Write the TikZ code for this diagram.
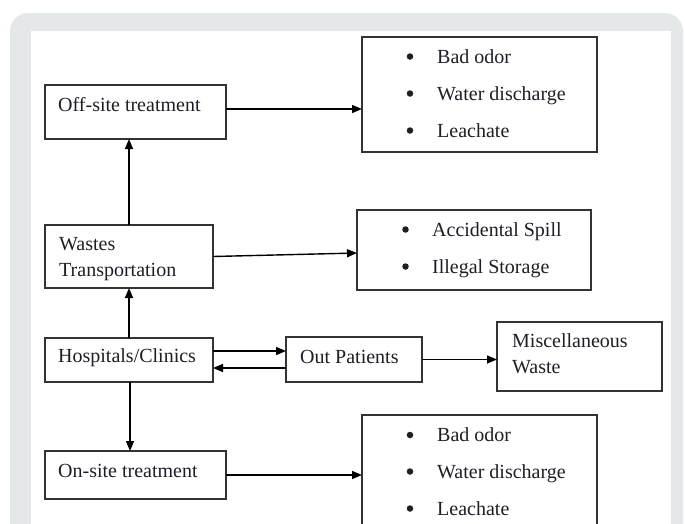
\documentclass[tikz,border=0pt]{standalone}
\usepackage{fontspec}
\setmainfont{Liberation Serif}
\usetikzlibrary{arrows.meta}
\definecolor{panelgray}{RGB}{229,232,232}
\definecolor{boxline}{RGB}{51,51,51}
\definecolor{txt}{RGB}{30,30,40}
\begin{document}
\begin{tikzpicture}[x=1pt,y=-1pt,
  box/.style={draw=boxline, line width=1.4pt, fill=white, inner sep=0pt, outer sep=0pt, rectangle},
  lbl/.style={anchor=base west, inner sep=0pt, text=txt, font=\fontsize{20}{26}\selectfont},
  bul/.style={circle, fill=txt, inner sep=0pt, minimum size=6.5pt},
  arr/.style={draw=black, line width=1.4pt, -{Triangle[length=10pt,width=8pt]}}]
\useasboundingbox (0,0) rectangle (685,523);
\clip (0,0) rectangle (685,523);
\fill[white] (0,0) rectangle (685,523);
\fill[panelgray, rounded corners=18pt] (10,13) rectangle (683,580);
\fill[white] (31,31) rectangle (671,580);

% boxes
\node[box, minimum width=181pt, minimum height=54pt] (off) at (135.5,112) {};
\node[box, minimum width=168pt, minimum height=63pt] (wst) at (129,256.5) {};
\node[box, minimum width=168pt, minimum height=44pt] (hosp) at (129,360) {};
\node[box, minimum width=181pt, minimum height=48pt] (ons) at (135.5,475) {};
\node[box, minimum width=136pt, minimum height=45pt] (outp) at (354,359.5) {};
\node[box, minimum width=165pt, minimum height=69pt] (misc) at (579.5,356.5) {};
\node[box, minimum width=235pt, minimum height=115pt] (topb) at (479.5,94.5) {};
\node[box, minimum width=234pt, minimum height=80pt] (midb) at (474,250) {};
\node[box, minimum width=235pt, minimum height=130pt] (botb) at (479.5,480) {};

% labels
\node[lbl] (toff) at (58,111.5) {Off-site treatment};
\node[lbl] (twst1) at (59,250) {Wastes};
\node[lbl] (twst2) at (59,276) {Transportation};
\node[lbl] (thosp) at (58,362.5) {Hospitals/Clinics};
\node[lbl] (tons) at (58,477) {On-site treatment};
\node[lbl] (toutp) at (300,363) {Out Patients};
\node[lbl] (tmisc1) at (512,347) {Miscellaneous};
\node[lbl] (tmisc2) at (512,373) {Waste};

\node[bul] (b1) at (410,56.5) {};
\node[lbl] (t1) at (437,63) {Bad odor};
\node[bul] (b2) at (410,93.5) {};
\node[lbl] (t2) at (437,100) {Water discharge};
\node[bul] (b3) at (410,130.5) {};
\node[lbl] (t3) at (437,137) {Leachate};

\node[bul] (b4) at (405.5,229.5) {};
\node[lbl] (t4) at (432,236) {Accidental Spill};
\node[bul] (b5) at (405.5,266.5) {};
\node[lbl] (t5) at (432,273) {Illegal Storage};

\node[bul] (b6) at (410,435) {};
\node[lbl] (t6) at (437,441.5) {Bad odor};
\node[bul] (b7) at (410,471.5) {};
\node[lbl] (t7) at (437,478) {Water discharge};
\node[bul] (b8) at (410,508.5) {};
\node[lbl] (t8) at (437,515) {Leachate};

% connectors
\draw[arr] (hosp.north) -- (hosp.north |- wst.south);
\draw[arr] (wst.north) -- (wst.north |- off.south);
\draw[arr] ([xshift=1pt]hosp.south) -- ([xshift=1pt]hosp.south |- ons.north);
\draw[arr] ([yshift=3pt]off.east) -- ([yshift=3pt]off.east -| topb.west);
\draw[arr] (wst.east) -- ([yshift=-3pt]midb.west);
\draw[arr] (ons.east) -- (ons.east -| botb.west);
\draw[arr] ([yshift=9pt]hosp.east) -- ([yshift=9pt]hosp.east -| outp.west);
\draw[arr] ([yshift=-8pt]hosp.east -| outp.west) -- ([yshift=-8pt]hosp.east);
\draw[arr] (outp.east) -- (outp.east -| misc.west);
\end{tikzpicture}
\end{document}
